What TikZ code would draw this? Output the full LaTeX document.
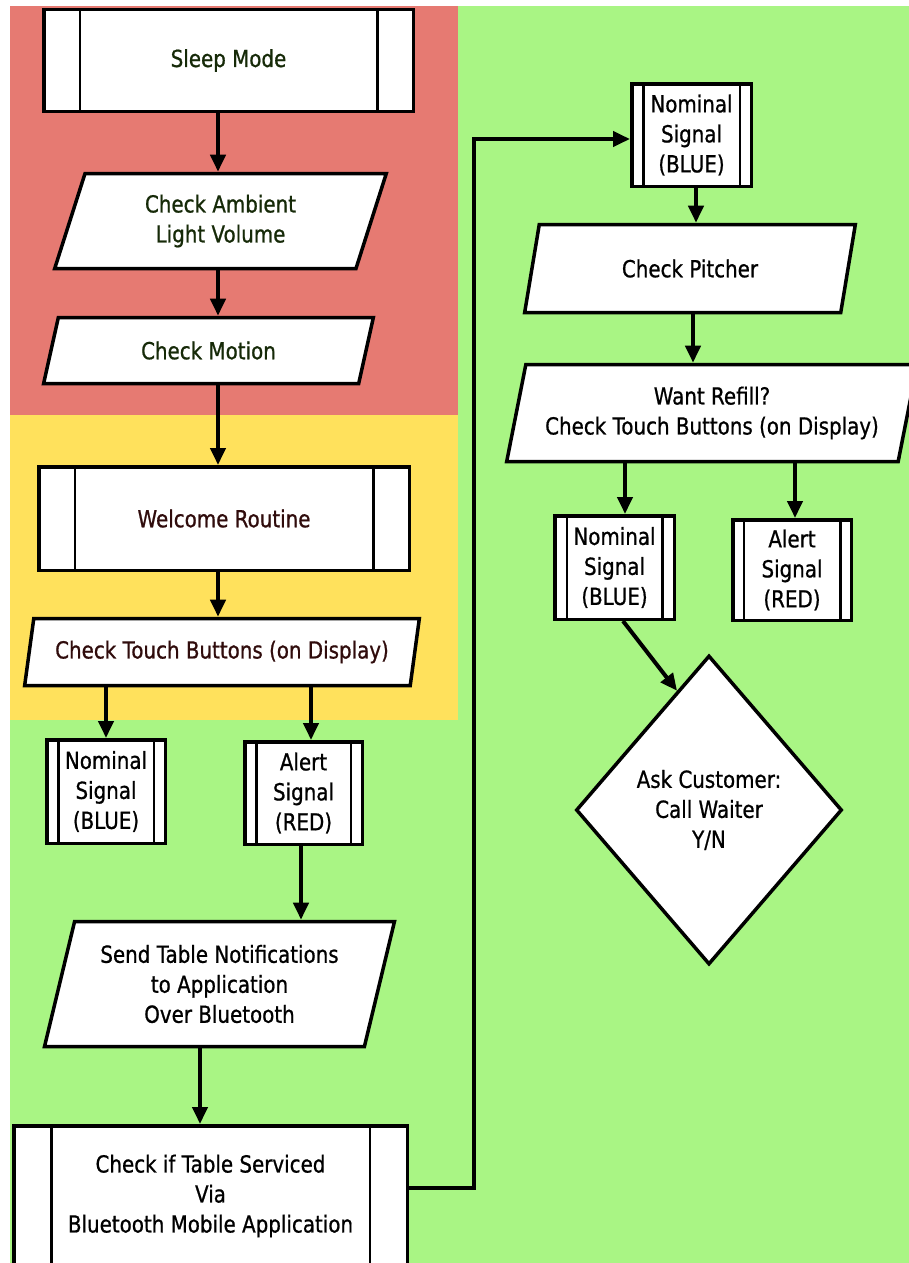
\documentclass[tikz,border=0pt]{standalone}
\usepackage{fontspec}
\setmainfont{DejaVu Sans}[FakeStretch=0.845,FakeBold=0.8]
\usetikzlibrary{shapes.geometric,arrows.meta}
\definecolor{redzone}{RGB}{230,122,114}
\definecolor{yelzone}{RGB}{255,225,92}
\definecolor{grnzone}{RGB}{169,245,132}
\definecolor{redtxt}{RGB}{22,42,8}
\definecolor{yeltxt}{RGB}{48,12,12}
\begin{document}
\begin{tikzpicture}[x=1pt,y=-1pt,
  box/.style={draw=black, line width=3.5pt, fill=white, inner sep=2pt, align=center,
              font=\fontsize{23.5}{30}\selectfont},
  subr/.style={box, rectangle, path picture={
      \draw[line width=2.5pt]
        ([xshift=#1]path picture bounding box.north west) -- ([xshift=#1]path picture bounding box.south west)
        ([xshift=-#1]path picture bounding box.north east) -- ([xshift=-#1]path picture bounding box.south east);}},
  io/.style={box, trapezium, trapezium left angle=73, trapezium right angle=107, trapezium stretches=true},
  dec/.style={box, diamond, inner sep=0pt},
  arr/.style={line width=4pt, -{Triangle[length=17pt,width=15pt]}},
]
\useasboundingbox (0,0) rectangle (909,1263);
\begin{scope}
\clip (0,0) rectangle (909,1263);
\fill[white] (0,0) rectangle (909,1263);
\fill[grnzone] (10,6) rectangle (909,1263);
\fill[redzone] (10,6) rectangle (458,415);
\fill[yelzone] (10,415) rectangle (458,720);

% column coordinates
\coordinate (xa) at (218,0);
\coordinate (xb) at (106,0);
\coordinate (xc) at (311,0);
\coordinate (xd) at (301,0);
\coordinate (xe) at (200,0);
\coordinate (xf) at (696,0);
\coordinate (xg) at (693,0);
\coordinate (xh) at (625,0);
\coordinate (xi) at (795,0);
\coordinate (xj) at (623,0);
\coordinate (yk) at (0,1188);
\coordinate (yl) at (0,139);
\coordinate (bend) at (474,0);

% left column
\node[subr=36pt, minimum width=369.5pt, minimum height=101.5pt, text=redtxt] (sleep) at (228.5,60.5) {Sleep Mode};
\node[io, minimum width=332pt, minimum height=95pt, text=redtxt] (ambient) at (220.5,221) {Check Ambient\\Light Volume};
\node[io, minimum width=330pt, minimum height=66pt, text=redtxt] (motion) at (208.5,350.5) {Check Motion};
\node[subr=36pt, minimum width=370.5pt, minimum height=103.5pt, text=yeltxt] (welcome) at (224,518.5) {Welcome Routine};
\node[io, minimum width=395pt, minimum height=67pt, text=yeltxt] (touch) at (222,652) {Check Touch Buttons (on Display)};
\node[subr=11.5pt, minimum width=118.5pt, minimum height=103.5pt] (noml) at (106,791.5) {Nominal\\Signal\\(BLUE)};
\node[subr=11.5pt, minimum width=117.5pt, minimum height=102.5pt] (alertl) at (303.5,793) {Alert\\Signal\\(RED)};
\node[io, minimum width=350pt, minimum height=125pt] (send) at (219.5,984) {Send Table Notifications\\to Application\\Over Bluetooth};
\node[subr=37.5pt, minimum width=393.5pt, minimum height=140.5pt] (service) at (210.5,1196) {Check if Table Serviced\\Via\\Bluetooth Mobile Application};

% right column
\node[subr=11.5pt, minimum width=119.5pt, minimum height=102.5pt] (nomt) at (691.5,135) {Nominal\\Signal\\(BLUE)};
\node[io, minimum width=331pt, minimum height=88pt] (pitcher) at (690,268.5) {Check Pitcher};
\node[io, minimum width=413pt, minimum height=97pt] (refill) at (712,413) {Want Refill?\\Check Touch Buttons (on Display)};
\node[subr=12pt, minimum width=119.5pt, minimum height=103.5pt] (nomm) at (614.5,567.5) {Nominal\\Signal\\(BLUE)};
\node[subr=11pt, minimum width=118.5pt, minimum height=100.5pt] (alertm) at (792,570) {Alert\\Signal\\(RED)};
\node[dec, minimum width=266pt, minimum height=309pt] (ask) at (709,810) {Ask Customer:\\Call Waiter\\Y/N};

% connectors
\draw[arr] (sleep.south -| xa) -- (ambient.north -| xa);
\draw[arr] (ambient.south -| xa) -- (motion.north -| xa);
\draw[arr] (motion.south -| xa) -- (welcome.north -| xa);
\draw[arr] (welcome.south -| xa) -- (touch.north -| xa);
\draw[arr] (touch.south -| xb) -- (noml.north -| xb);
\draw[arr] (touch.south -| xc) -- (alertl.north -| xc);
\draw[arr] (alertl.south -| xd) -- (send.north -| xd);
\draw[arr] (send.south -| xe) -- (service.north -| xe);
\draw[arr] (service.east |- yk) -| (bend |- yl) -- (nomt.west |- yl);
\draw[arr] (nomt.south -| xf) -- (pitcher.north -| xf);
\draw[arr] (pitcher.south -| xg) -- (refill.north -| xg);
\draw[arr] (refill.south -| xh) -- (nomm.north -| xh);
\draw[arr] (refill.south -| xi) -- (alertm.north -| xi);
\draw[arr] (nomm.south -| xj) -- (ask.105);
\end{scope}
\end{tikzpicture}
\end{document}
